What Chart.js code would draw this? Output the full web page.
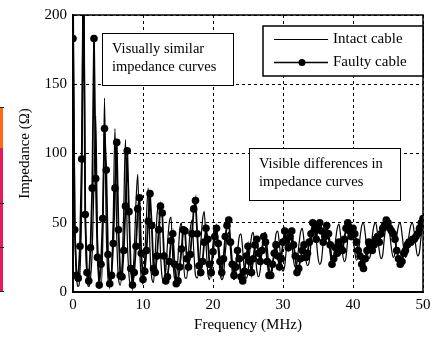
<!DOCTYPE html>
<html lang="en">
<head>
  <meta charset="UTF-8">
  <title>Impedance - intact vs faulty cable</title>
  <script src="https://cdn.jsdelivr.net/npm/chart.js"></script>
  <style>
    body { margin: 0; padding: 0; background: #fff; }
    #wrap { position: relative; width: 438px; height: 338px; }
    .strip { position: absolute; left: 0; width: 3px; }
    .tick { position: absolute; left: 0; width: 4px; height: 1px; background: #222; }
  </style>
</head>
<body>
  <div id="wrap">
    <canvas id="impChart" width="438" height="338"></canvas>
    <!-- edge of the neighbouring figure that was cut off -->
    <div class="strip" style="top:107px;height:41px;background:#ff6a10;"></div>
    <div class="strip" style="top:148px;height:143px;background:#e8185a;"></div>
    <div class="tick" style="top:107px;"></div>
    <div class="tick" style="top:203px;"></div>
    <div class="tick" style="top:247px;"></div>
    <div class="tick" style="top:291px;"></div>
  </div>

  <script>
    // samples every 0.25 MHz, 0 .. 50 MHz
    const freqStep = 0.25;

    const intactCable = [
      250, 60, 12, 4, 15, 70, 260, 55, 12, 4, 10, 30, 80, 127, 40, 10, 4, 35, 140, 45,
      10, 4, 14, 55, 118, 40, 10, 5, 18, 60, 110, 40, 12, 5, 10, 30, 65, 85, 35, 10,
      6, 25, 55, 75, 30, 10, 7, 28, 55, 64, 28, 10, 8, 15, 35, 50, 54, 25, 10, 9,
      25, 45, 50, 25, 10, 10, 28, 45, 52, 30, 12, 10, 18, 35, 52, 58, 35, 14, 9, 18,
      35, 45, 46, 30, 14, 9, 12, 28, 40, 43, 30, 14, 9, 13, 28, 40, 42, 30, 14, 10,
      14, 29, 40, 43, 31, 16, 11, 16, 30, 41, 43, 32, 18, 13, 17, 31, 42, 44, 34, 20,
      15, 19, 32, 43, 45, 36, 23, 18, 21, 33, 43, 46, 37, 24, 19, 22, 35, 44, 47, 38,
      25, 20, 23, 36, 45, 48, 39, 27, 21, 24, 37, 46, 49, 40, 28, 22, 25, 38, 47, 49,
      41, 29, 23, 26, 39, 48, 50, 42, 30, 24, 27, 40, 48, 50, 42, 30, 24, 27, 40, 48,
      50, 42, 31, 25, 28, 40, 48, 50, 42, 31, 25, 28, 41, 48, 50, 43, 32, 26, 29, 41,
      48
    ];

    const faultyCable = [
      183, 45, 12, 10, 33, 96, 240, 56, 14, 8, 32, 75, 183, 82, 25, 5, 20, 53, 118, 88,
      27, 6, 12, 35, 75, 108, 45, 12, 11, 30, 62, 102, 58, 17, 5, 14, 33, 60, 68, 28,
      9, 15, 30, 51, 71, 48, 17, 14, 26, 45, 62, 57, 26, 8, 11, 22, 37, 42, 20, 6,
      8, 18, 31, 45, 44, 24, 18, 27, 42, 60, 66, 42, 19, 14, 22, 36, 46, 38, 20, 14,
      29, 40, 46, 35, 22, 14, 24, 40, 48, 52, 36, 20, 12, 18, 30, 24, 11, 8, 15, 26,
      33, 22, 14, 24, 34, 38, 28, 22, 30, 40, 36, 22, 12, 12, 20, 28, 34, 26, 18, 24,
      36, 44, 38, 32, 40, 44, 34, 26, 14, 17, 24, 30, 34, 25, 28, 36, 42, 50, 45, 38,
      47, 50, 44, 36, 40, 48, 42, 34, 20, 24, 32, 28, 36, 32, 30, 38, 46, 50, 44, 40,
      46, 42, 36, 30, 26, 20, 17, 24, 30, 36, 34, 30, 34, 38, 40, 36, 42, 46, 48, 52,
      50, 46, 44, 42, 38, 30, 24, 20, 22, 28, 30, 34, 36, 36, 38, 38, 40, 42, 46, 50,
      53
    ];

    const xTicks = [0, 10, 20, 30, 40, 50];
    const yTicks = [0, 50, 100, 150, 200];
    const seriesLabels = ['Intact cable', 'Faulty cable'];
    const noteLeft = ['Visually similar', 'impedance curves'];
    const noteRight = ['Visible differences in', 'impedance curves'];

    const toPoints = arr => arr.map((v, i) => ({ x: i * freqStep, y: v }));

    const serif = 'Liberation Serif, Times New Roman, serif';

    function drawNote(ctx, x, y, w, h, lines) {
      ctx.fillStyle = '#fff';
      ctx.fillRect(x, y, w, h);
      ctx.strokeStyle = '#000';
      ctx.lineWidth = 1;
      ctx.strokeRect(x + 0.5, y + 0.5, w, h);
      ctx.fillStyle = '#000';
      ctx.font = '14.5px ' + serif;
      ctx.textBaseline = 'middle';
      ctx.textAlign = 'left';
      lines.forEach((t, i) => ctx.fillText(t, x + 10, y + 16 + i * 18));
    }

    const overlayPlugin = {
      id: 'overlay',
      afterDatasetsDraw(chart) {
        const { ctx, chartArea: a } = chart;
        ctx.save();

        // frame around the plot
        ctx.strokeStyle = '#000';
        ctx.lineWidth = 1.5;
        ctx.strokeRect(a.left, a.top, a.right - a.left, a.bottom - a.top);

        drawNote(ctx, a.left + 29, a.top + 18, 131, 52, noteLeft);
        drawNote(ctx, a.left + 176, a.top + 133, 151, 52, noteRight);

        // legend box
        const lx = a.left + 190, ly = a.top + 11, lw = a.right - a.left - 190, lh = 50;
        ctx.fillStyle = '#fff';
        ctx.fillRect(lx, ly, lw, lh);
        ctx.lineWidth = 1.5;
        ctx.strokeRect(lx, ly, lw, lh);

        ctx.strokeStyle = '#000';
        ctx.lineWidth = 1;
        ctx.beginPath();
        ctx.moveTo(lx + 11, ly + 13.5); ctx.lineTo(lx + 65, ly + 13.5);
        ctx.stroke();
        ctx.lineWidth = 1.5;
        ctx.beginPath();
        ctx.moveTo(lx + 11, ly + 36.5); ctx.lineTo(lx + 65, ly + 36.5);
        ctx.stroke();
        ctx.fillStyle = '#000';
        ctx.beginPath();
        ctx.arc(lx + 39, ly + 36.5, 3.5, 0, Math.PI * 2);
        ctx.fill();

        ctx.font = '15px ' + serif;
        ctx.textBaseline = 'middle';
        ctx.fillText(seriesLabels[0], lx + 70, ly + 13);
        ctx.fillText(seriesLabels[1], lx + 70, ly + 36);
        ctx.restore();
      }
    };

    const ctx = document.getElementById('impChart').getContext('2d');
    new Chart(ctx, {
      type: 'line',
      data: {
        datasets: [{
          label: seriesLabels[0],
          data: toPoints(intactCable),
          borderColor: '#000',
          borderWidth: 1.2,
          pointRadius: 0,
          cubicInterpolationMode: 'monotone',
          order: 1
        }, {
          label: seriesLabels[1],
          data: toPoints(faultyCable),
          borderColor: '#000',
          borderWidth: 1.8,
          pointRadius: 3.8,
          pointBackgroundColor: '#000',
          pointBorderWidth: 0,
          tension: 0,
          order: 0
        }]
      },
      options: {
        responsive: false,
        animation: false,
        devicePixelRatio: 1,
        layout: { padding: { left: 0, right: 15, top: 10, bottom: 0 } },
        scales: {
          x: {
            type: 'linear',
            min: 0,
            max: 50,
            afterFit: s => { s.height = 46; },
            afterBuildTicks: s => { s.ticks = xTicks.map(v => ({ value: v })); },
            ticks: { color: '#000', padding: 4, font: { family: serif, size: 15 } },
            grid: { color: '#000', lineWidth: 1, drawTicks: false },
            border: { display: true, color: '#000', width: 2, dash: [3, 3] },
            title: {
              display: true,
              text: 'Frequency (MHz)',
              color: '#000',
              font: { family: serif, size: 15 },
              padding: { bottom: 4, top: 0 }
            }
          },
          y: {
            min: 0,
            max: 200,
            afterFit: s => { s.width = 73; },
            afterBuildTicks: s => { s.ticks = yTicks.map(v => ({ value: v })); },
            ticks: { color: '#000', padding: 6, font: { family: serif, size: 15 } },
            grid: { color: '#000', lineWidth: 1, drawTicks: false },
            border: { display: true, color: '#000', width: 2, dash: [3, 3] },
            title: {
              display: true,
              text: 'Impedance (\u03A9)',
              color: '#000',
              font: { family: serif, size: 15 },
              padding: { top: 16, bottom: 0 }
            }
          }
        },
        plugins: {
          legend: { display: false },
          tooltip: { enabled: false }
        }
      },
      plugins: [overlayPlugin]
    });
  </script>
</body>
</html>
